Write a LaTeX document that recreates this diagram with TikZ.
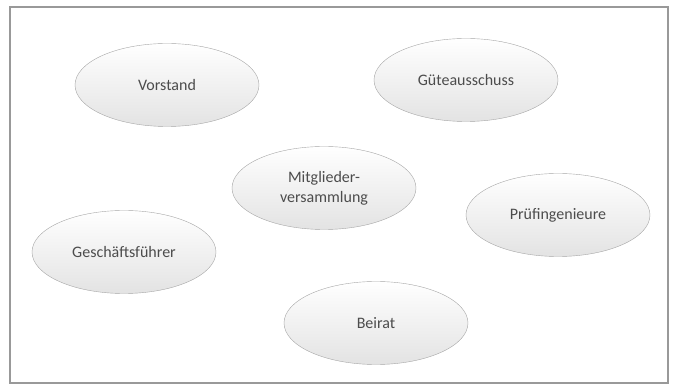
\documentclass[tikz,border=0pt]{standalone}
\usepackage{fontspec}
\setmainfont{Carlito}
\usepackage{tikz}
\usetikzlibrary{shapes.geometric}

\begin{document}
\begin{tikzpicture}[
        x=1pt, y=-1pt,
        organ/.style={
            draw=gray!70,
            ellipse,
            align=center,
            minimum width=184pt,
            minimum height=83pt,
            top color=white,
            bottom color=gray!22,
            font=\fontsize{16}{20}\selectfont,
            text=black!70
        }
    ]
        \useasboundingbox (0,0) rectangle (673,390);
        \draw[gray!80, line width=1.2pt] (10,7) rectangle (668,383);

        \node[organ] (vorstand) at (167,85) {Vorstand};
        \node[organ] (guete) at (466,80) {Güteausschuss};
        \node[organ] (mv) at (324,188) {Mitglieder-\\versammlung};
        \node[organ] (pruef) at (558,215) {Prüfingenieure};
        \node[organ] (gf) at (124,252) {Geschäftsführer};
        \node[organ] (beirat) at (376,323) {Beirat};
    \end{tikzpicture}
\end{document}
